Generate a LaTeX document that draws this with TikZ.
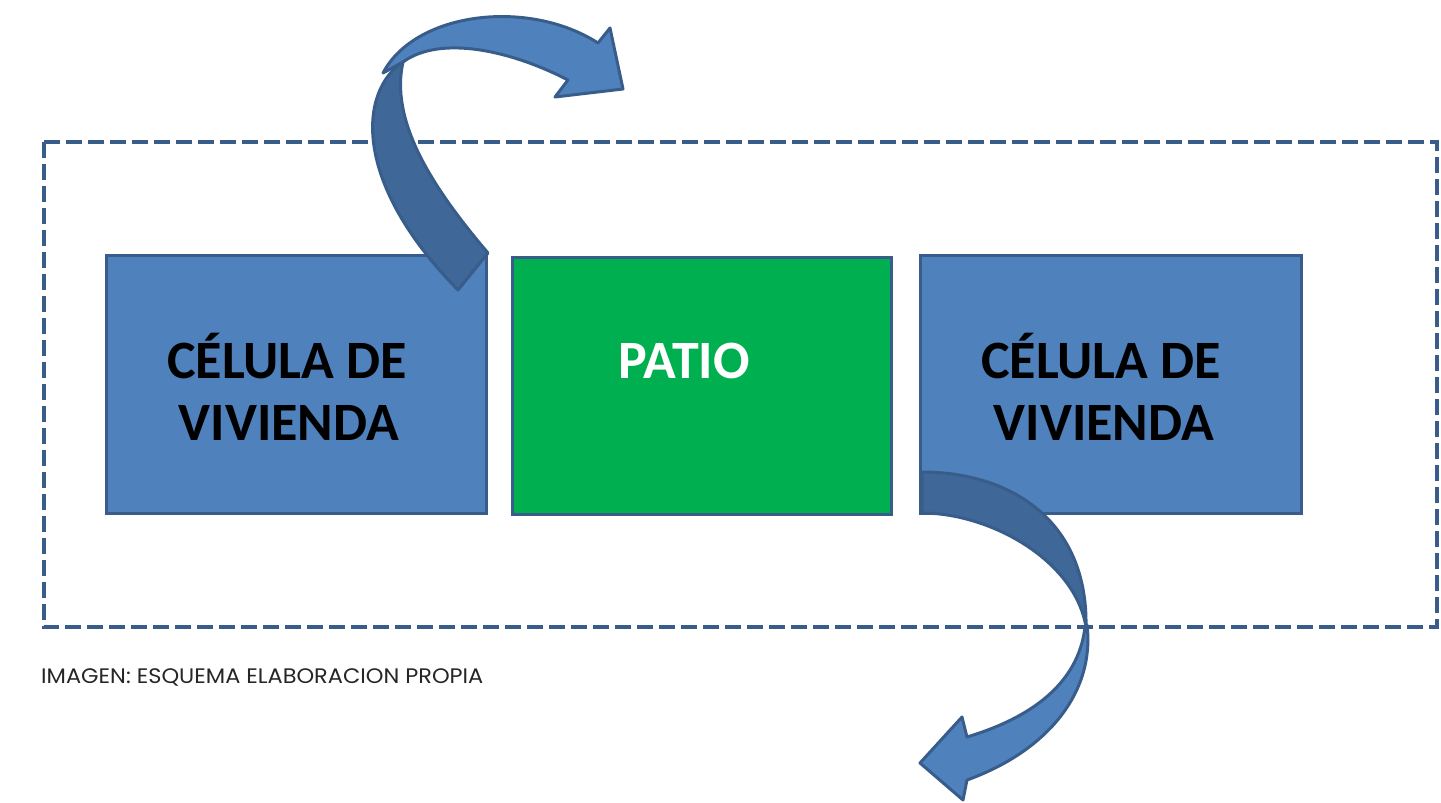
\documentclass[tikz,border=0pt]{standalone}
\usepackage{fontspec}
\setmainfont{Carlito}
\newfontfamily\capfont[FakeStretch=1.07]{Poppins}
\definecolor{boxblue}{HTML}{4F81BD}
\definecolor{darkblue}{HTML}{3F6797}
\definecolor{edge}{HTML}{385D8A}
\definecolor{patio}{HTML}{00B050}
\begin{document}
\begin{tikzpicture}[x=1pt,y=-1pt,
  cellbox/.style={draw=edge,line width=3pt,minimum width=#1pt,minimum height=258pt,inner sep=0pt},
  bigtext/.style={font=\fontsize{54}{60}\selectfont\bfseries,anchor=base,inner sep=0pt},
  frame/.style={draw=edge,line width=4pt,dash pattern=on 16pt off 6pt},
  lightarrow/.style={fill=boxblue,draw=edge,line width=3pt,line join=round},
  darkarrow/.style={fill=darkblue,draw=edge,line width=3pt,line join=round}]
\useasboundingbox (0,0) rectangle (1441,803);
% dashed frame
\draw[frame] (44,142) rectangle (1437,627);
% boxes
\node[cellbox=380,fill=boxblue] (left) at (296,384.5) {};
\node[cellbox=379,fill=patio,minimum height=257pt] (mid) at (701.5,385.5) {};
\node[cellbox=381,fill=boxblue] (right) at (1110.5,384.5) {};
% labels
\node[bigtext] (l1) at (287,378) {CÉLULA DE};
\node[bigtext] (l2) at (289,440) {VIVIENDA};
\node[bigtext,text=white] (p) at (684,378) {PATIO};
\node[bigtext] (r1) at (1101,378) {CÉLULA DE};
\node[bigtext] (r2) at (1104,440) {VIVIENDA};
% caption
\node[font=\capfont\fontsize{21}{24}\selectfont,anchor=base west,inner sep=0pt,text=black!85] (cap) at (41,683) {IMAGEN: ESQUEMA ELABORACION PROPIA};
% top curved arrow
\path[lightarrow] (383,73) .. controls (415,12) and (528,-2) .. (598,43)
  -- (610,28) -- (623,89) -- (555,97) -- (568,80)
  .. controls (510,50) and (440,35) .. (403,62) -- cycle;
\path[darkarrow] (458,290) -- (488,253)
  .. controls (430,185) and (390,120) .. (403,62)
  .. controls (360,90) and (350,180) .. (458,290) -- cycle;
% bottom curved arrow
\path[darkarrow] (922,472) -- (922,513)
  .. controls (990,513) and (1075,560) .. (1086,627)
  .. controls (1088,520) and (1010,472) .. (922,472) -- cycle;
\path[lightarrow] (1087,625) .. controls (1095,690) and (1050,750) .. (967,780)
  -- (963,800) -- (920,763) -- (962,717) -- (967,737)
  .. controls (1050,712) and (1080,670) .. (1085,627) -- cycle;
\end{tikzpicture}
\end{document}
